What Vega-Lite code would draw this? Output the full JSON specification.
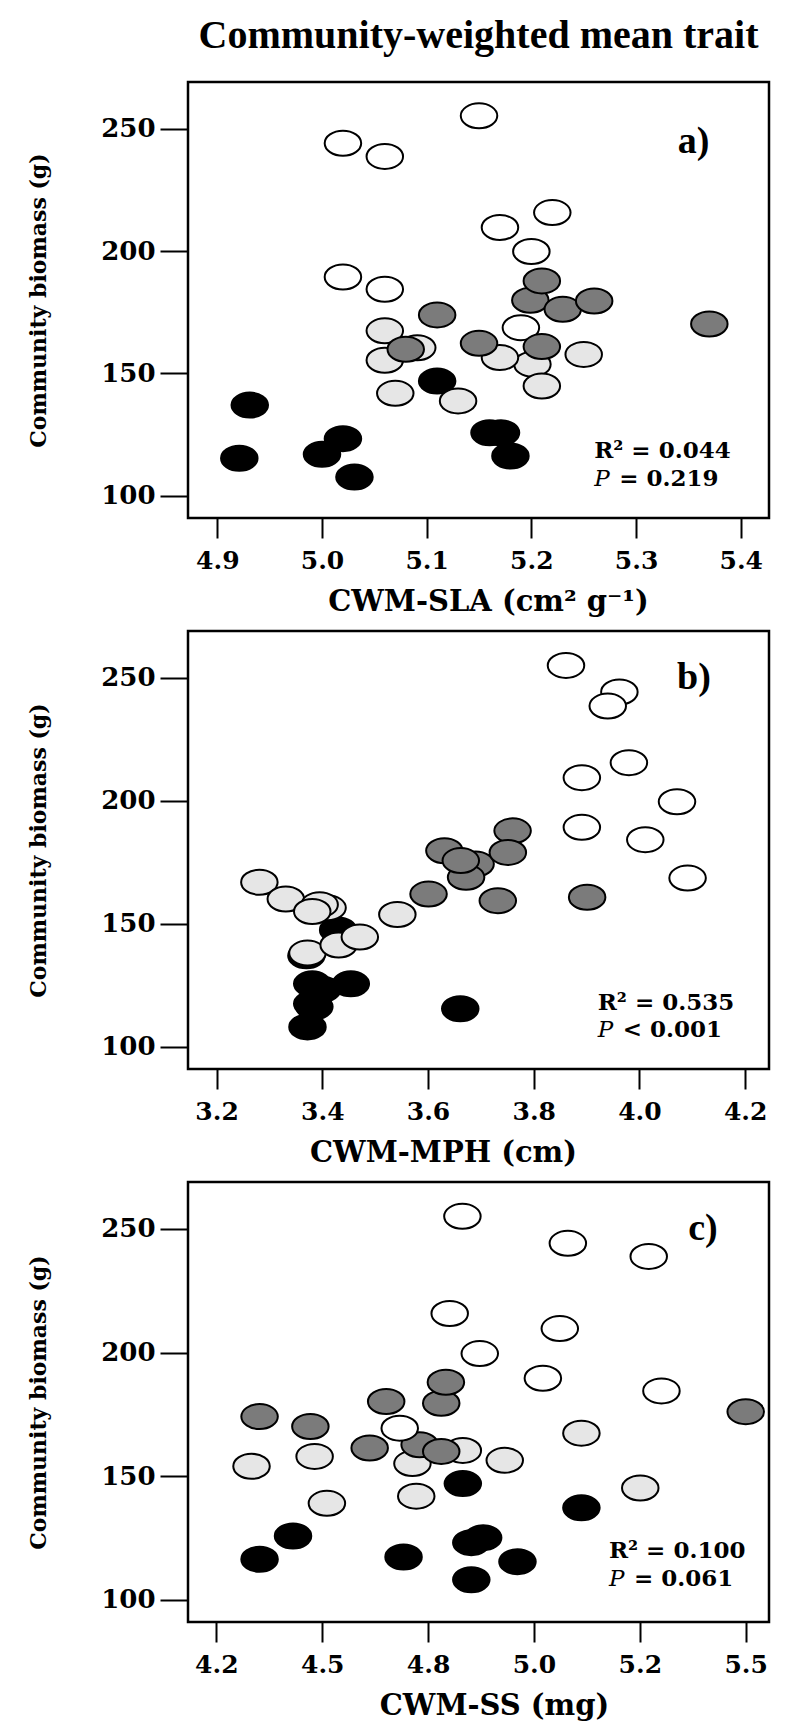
{
  "$schema": "https://vega.github.io/schema/vega-lite/v6.json",
  "background": "white",
  "padding": {"left": 26, "top": 14, "right": 18, "bottom": 6},
  "spacing": 113,
  "bounds": "flush",
  "datasets": {
    "a": [
      {"x": 4.931, "y": 137.1, "g": "black"}, {"x": 4.921, "y": 115.4, "g": "black"}, {"x": 5.000, "y": 117.0, "g": "black"},
      {"x": 5.020, "y": 123.4, "g": "black"}, {"x": 5.031, "y": 107.7, "g": "black"}, {"x": 5.110, "y": 146.9, "g": "black"},
      {"x": 5.160, "y": 125.8, "g": "black"}, {"x": 5.171, "y": 125.8, "g": "black"}, {"x": 5.180, "y": 116.3, "g": "black"},
      {"x": 5.060, "y": 167.4, "g": "light"}, {"x": 5.091, "y": 160.5, "g": "light"}, {"x": 5.060, "y": 155.4, "g": "light"},
      {"x": 5.201, "y": 153.8, "g": "light"}, {"x": 5.170, "y": 156.5, "g": "light"}, {"x": 5.250, "y": 157.8, "g": "light"},
      {"x": 5.070, "y": 141.9, "g": "light"}, {"x": 5.130, "y": 138.8, "g": "light"}, {"x": 5.210, "y": 144.9, "g": "light"},
      {"x": 5.190, "y": 168.7, "g": "white"},
      {"x": 5.110, "y": 173.9, "g": "dark"}, {"x": 5.080, "y": 159.9, "g": "dark"}, {"x": 5.150, "y": 162.3, "g": "dark"},
      {"x": 5.199, "y": 179.9, "g": "dark"}, {"x": 5.210, "y": 187.8, "g": "dark"}, {"x": 5.230, "y": 176.2, "g": "dark"},
      {"x": 5.260, "y": 179.6, "g": "dark"}, {"x": 5.210, "y": 161.0, "g": "dark"}, {"x": 5.370, "y": 170.2, "g": "dark"},
      {"x": 5.150, "y": 255.2, "g": "white"}, {"x": 5.020, "y": 244.0, "g": "white"}, {"x": 5.060, "y": 238.6, "g": "white"},
      {"x": 5.220, "y": 215.7, "g": "white"}, {"x": 5.170, "y": 209.6, "g": "white"}, {"x": 5.200, "y": 199.8, "g": "white"},
      {"x": 5.020, "y": 189.4, "g": "white"}, {"x": 5.060, "y": 184.4, "g": "white"}
    ],
    "b": [
      {"x": 3.370, "y": 137.0, "g": "black"}, {"x": 3.430, "y": 147.5, "g": "black"}, {"x": 3.381, "y": 125.6, "g": "black"},
      {"x": 3.454, "y": 125.6, "g": "black"}, {"x": 3.400, "y": 123.4, "g": "black"}, {"x": 3.381, "y": 117.5, "g": "black"},
      {"x": 3.385, "y": 116.3, "g": "black"}, {"x": 3.372, "y": 108.1, "g": "black"}, {"x": 3.661, "y": 115.5, "g": "black"},
      {"x": 3.281, "y": 166.9, "g": "light"}, {"x": 3.331, "y": 160.1, "g": "light"}, {"x": 3.410, "y": 156.5, "g": "light"},
      {"x": 3.395, "y": 157.8, "g": "light"}, {"x": 3.381, "y": 155.0, "g": "light"}, {"x": 3.542, "y": 153.8, "g": "light"},
      {"x": 3.372, "y": 138.1, "g": "light"}, {"x": 3.431, "y": 141.4, "g": "light"}, {"x": 3.471, "y": 144.6, "g": "light"},
      {"x": 3.690, "y": 174.3, "g": "dark"}, {"x": 3.672, "y": 168.9, "g": "dark"}, {"x": 3.631, "y": 179.7, "g": "dark"},
      {"x": 3.662, "y": 175.7, "g": "dark"}, {"x": 3.760, "y": 187.8, "g": "dark"}, {"x": 3.751, "y": 179.0, "g": "dark"},
      {"x": 3.601, "y": 162.1, "g": "dark"}, {"x": 3.732, "y": 159.4, "g": "dark"}, {"x": 3.901, "y": 160.8, "g": "dark"},
      {"x": 3.861, "y": 255.0, "g": "white"}, {"x": 3.962, "y": 244.2, "g": "white"}, {"x": 3.940, "y": 238.5, "g": "white"},
      {"x": 3.980, "y": 215.5, "g": "white"}, {"x": 3.891, "y": 209.4, "g": "white"}, {"x": 4.071, "y": 199.6, "g": "white"},
      {"x": 3.891, "y": 189.2, "g": "white"}, {"x": 4.011, "y": 184.2, "g": "white"}, {"x": 4.091, "y": 168.6, "g": "white"}
    ],
    "c": [
      {"x": 4.832, "y": 147.0, "g": "black"}, {"x": 5.112, "y": 137.2, "g": "black"}, {"x": 4.431, "y": 125.8, "g": "black"},
      {"x": 4.352, "y": 116.4, "g": "black"}, {"x": 4.692, "y": 117.3, "g": "black"}, {"x": 4.852, "y": 123.1, "g": "black"},
      {"x": 4.880, "y": 125.1, "g": "black"}, {"x": 4.961, "y": 115.4, "g": "black"}, {"x": 4.852, "y": 108.1, "g": "black"},
      {"x": 4.333, "y": 154.0, "g": "light"}, {"x": 4.482, "y": 158.0, "g": "light"}, {"x": 4.511, "y": 139.0, "g": "light"},
      {"x": 4.713, "y": 155.1, "g": "light"}, {"x": 4.832, "y": 160.4, "g": "light"}, {"x": 4.931, "y": 156.4, "g": "light"},
      {"x": 4.722, "y": 141.9, "g": "light"}, {"x": 5.112, "y": 167.4, "g": "light"}, {"x": 5.251, "y": 145.2, "g": "light"},
      {"x": 4.352, "y": 174.1, "g": "dark"}, {"x": 4.472, "y": 170.1, "g": "dark"}, {"x": 4.651, "y": 180.2, "g": "dark"},
      {"x": 4.781, "y": 179.5, "g": "dark"}, {"x": 4.792, "y": 188.0, "g": "dark"}, {"x": 4.612, "y": 161.4, "g": "dark"},
      {"x": 4.730, "y": 162.7, "g": "dark"}, {"x": 4.781, "y": 160.0, "g": "dark"}, {"x": 5.500, "y": 176.1, "g": "dark"},
      {"x": 4.831, "y": 255.1, "g": "white"}, {"x": 5.080, "y": 244.2, "g": "white"}, {"x": 5.271, "y": 238.9, "g": "white"},
      {"x": 4.801, "y": 215.8, "g": "white"}, {"x": 5.061, "y": 209.7, "g": "white"}, {"x": 4.872, "y": 199.6, "g": "white"},
      {"x": 5.021, "y": 189.6, "g": "white"}, {"x": 5.301, "y": 184.5, "g": "white"}, {"x": 4.683, "y": 169.4, "g": "white"}
    ]
  },
  "vconcat": [
    {
      "title": {"text": "Community-weighted mean trait", "font": "Liberation Serif", "fontSize": 40, "fontWeight": "bold", "color": "black", "anchor": "middle", "frame": "group", "baseline": "alphabetic", "offset": -6, "dx": 0},
      "width": 581, "height": 436,
      "layer": [
        {
          "data": {"name": "a"},
          "mark": {"type": "point", "shape": "M-1,0C-1,-0.378,-0.552,-0.685,0,-0.685C0.552,-0.685,1,-0.378,1,0C1,0.378,0.552,0.685,0,0.685C-0.552,0.685,-1,0.378,-1,0Z", "filled": true, "size": 1332, "stroke": "black", "strokeWidth": 2, "opacity": 1},
          "encoding": {
            "x": {"field": "x", "type": "quantitative", "scale": {"domain": [4.872, 5.427], "nice": false, "zero": false},
                  "axis": {"values": [4.9, 5.0, 5.1, 5.2, 5.3, 5.4], "format": ".1f", "title": "CWM-SLA (cm² g⁻¹)", "titleX": 300, "titleY": 92}},
            "y": {"field": "y", "type": "quantitative", "scale": {"domain": [91, 269], "nice": false, "zero": false},
                  "axis": {"values": [100, 150, 200, 250], "title": "Community biomass (g)"}},
            "fill": {"field": "g", "type": "nominal", "scale": {"domain": ["black", "dark", "light", "white"], "range": ["#000000", "#7b7b7b", "#e6e6e6", "#ffffff"]}, "legend": null}
          }
        },
        {
          "data": {"values": [{"x": 5.355, "y": 240, "t": "a)"}]},
          "mark": {"type": "text", "font": "Liberation Serif", "fontSize": 38, "fontWeight": "bold", "align": "center", "baseline": "alphabetic", "color": "black"},
          "encoding": {"x": {"field": "x", "type": "quantitative"}, "y": {"field": "y", "type": "quantitative"}, "text": {"field": "t"}}
        },
        {
          "data": {"values": [{"x": 5.260, "y": 115.6, "t": "R² = 0.044"}]},
          "mark": {"type": "text", "font": "DejaVu Serif", "fontSize": 23, "fontWeight": "bold", "align": "left", "baseline": "alphabetic", "color": "black"},
          "encoding": {"x": {"field": "x", "type": "quantitative"}, "y": {"field": "y", "type": "quantitative"}, "text": {"field": "t"}}
        },
        {
          "data": {"values": [{"x": 5.260, "y": 104.0, "t": "P"}]},
          "mark": {"type": "text", "font": "DejaVu Serif", "fontSize": 23, "fontStyle": "italic", "align": "left", "baseline": "alphabetic", "color": "black"},
          "encoding": {"x": {"field": "x", "type": "quantitative"}, "y": {"field": "y", "type": "quantitative"}, "text": {"field": "t"}}
        },
        {
          "data": {"values": [{"x": 5.260, "y": 104.0, "t": "= 0.219"}]},
          "mark": {"type": "text", "font": "DejaVu Serif", "fontSize": 23, "fontWeight": "bold", "align": "left", "baseline": "alphabetic", "dx": 25, "color": "black"},
          "encoding": {"x": {"field": "x", "type": "quantitative"}, "y": {"field": "y", "type": "quantitative"}, "text": {"field": "t"}}
        }
      ]
    },
    {
      "width": 581, "height": 438,
      "layer": [
        {
          "data": {"name": "b"},
          "mark": {"type": "point", "shape": "M-1,0C-1,-0.378,-0.552,-0.685,0,-0.685C0.552,-0.685,1,-0.378,1,0C1,0.378,0.552,0.685,0,0.685C-0.552,0.685,-1,0.378,-1,0Z", "filled": true, "size": 1332, "stroke": "black", "strokeWidth": 2, "opacity": 1},
          "encoding": {
            "x": {"field": "x", "type": "quantitative", "scale": {"domain": [3.146, 4.245], "nice": false, "zero": false},
                  "axis": {"values": [3.2, 3.4, 3.6, 3.8, 4.0, 4.2], "format": ".1f", "title": "CWM-MPH (cm)", "titleX": 255, "titleY": 92}},
            "y": {"field": "y", "type": "quantitative", "scale": {"domain": [91, 269], "nice": false, "zero": false},
                  "axis": {"values": [100, 150, 200, 250], "title": "Community biomass (g)"}},
            "fill": {"field": "g", "type": "nominal", "scale": {"domain": ["black", "dark", "light", "white"], "range": ["#000000", "#7b7b7b", "#e6e6e6", "#ffffff"]}, "legend": null}
          }
        },
        {
          "data": {"values": [{"x": 4.103, "y": 245.3, "t": "b)"}]},
          "mark": {"type": "text", "font": "Liberation Serif", "fontSize": 38, "fontWeight": "bold", "align": "center", "baseline": "alphabetic", "color": "black"},
          "encoding": {"x": {"field": "x", "type": "quantitative"}, "y": {"field": "y", "type": "quantitative"}, "text": {"field": "t"}}
        },
        {
          "data": {"values": [{"x": 3.921, "y": 114.8, "t": "R² = 0.535"}]},
          "mark": {"type": "text", "font": "DejaVu Serif", "fontSize": 23, "fontWeight": "bold", "align": "left", "baseline": "alphabetic", "color": "black"},
          "encoding": {"x": {"field": "x", "type": "quantitative"}, "y": {"field": "y", "type": "quantitative"}, "text": {"field": "t"}}
        },
        {
          "data": {"values": [{"x": 3.921, "y": 104.0, "t": "P"}]},
          "mark": {"type": "text", "font": "DejaVu Serif", "fontSize": 23, "fontStyle": "italic", "align": "left", "baseline": "alphabetic", "color": "black"},
          "encoding": {"x": {"field": "x", "type": "quantitative"}, "y": {"field": "y", "type": "quantitative"}, "text": {"field": "t"}}
        },
        {
          "data": {"values": [{"x": 3.921, "y": 104.0, "t": "< 0.001"}]},
          "mark": {"type": "text", "font": "DejaVu Serif", "fontSize": 23, "fontWeight": "bold", "align": "left", "baseline": "alphabetic", "dx": 25, "color": "black"},
          "encoding": {"x": {"field": "x", "type": "quantitative"}, "y": {"field": "y", "type": "quantitative"}, "text": {"field": "t"}}
        }
      ]
    },
    {
      "width": 581, "height": 440,
      "layer": [
        {
          "data": {"name": "c"},
          "mark": {"type": "point", "shape": "M-1,0C-1,-0.378,-0.552,-0.685,0,-0.685C0.552,-0.685,1,-0.378,1,0C1,0.378,0.552,0.685,0,0.685C-0.552,0.685,-1,0.378,-1,0Z", "filled": true, "size": 1332, "stroke": "black", "strokeWidth": 2, "opacity": 1},
          "encoding": {
            "x": {"field": "x", "type": "quantitative", "scale": {"domain": [4.183, 5.555], "nice": false, "zero": false},
                  "axis": {"values": [4.25, 4.5, 4.75, 5.0, 5.25, 5.5], "labelExpr": "datum.value == 4.25 ? '4.2' : datum.value == 4.75 ? '4.8' : datum.value == 5.25 ? '5.2' : format(datum.value, '.1f')", "title": "CWM-SS (mg)", "titleX": 306, "titleY": 92}},
            "y": {"field": "y", "type": "quantitative", "scale": {"domain": [91, 269], "nice": false, "zero": false},
                  "axis": {"values": [100, 150, 200, 250], "title": "Community biomass (g)"}},
            "fill": {"field": "g", "type": "nominal", "scale": {"domain": ["black", "dark", "light", "white"], "range": ["#000000", "#7b7b7b", "#e6e6e6", "#ffffff"]}, "legend": null}
          }
        },
        {
          "data": {"values": [{"x": 5.399, "y": 245.4, "t": "c)"}]},
          "mark": {"type": "text", "font": "Liberation Serif", "fontSize": 38, "fontWeight": "bold", "align": "center", "baseline": "alphabetic", "color": "black"},
          "encoding": {"x": {"field": "x", "type": "quantitative"}, "y": {"field": "y", "type": "quantitative"}, "text": {"field": "t"}}
        },
        {
          "data": {"values": [{"x": 5.177, "y": 117.0, "t": "R² = 0.100"}]},
          "mark": {"type": "text", "font": "DejaVu Serif", "fontSize": 23, "fontWeight": "bold", "align": "left", "baseline": "alphabetic", "color": "black"},
          "encoding": {"x": {"field": "x", "type": "quantitative"}, "y": {"field": "y", "type": "quantitative"}, "text": {"field": "t"}}
        },
        {
          "data": {"values": [{"x": 5.177, "y": 105.6, "t": "P"}]},
          "mark": {"type": "text", "font": "DejaVu Serif", "fontSize": 23, "fontStyle": "italic", "align": "left", "baseline": "alphabetic", "color": "black"},
          "encoding": {"x": {"field": "x", "type": "quantitative"}, "y": {"field": "y", "type": "quantitative"}, "text": {"field": "t"}}
        },
        {
          "data": {"values": [{"x": 5.177, "y": 105.6, "t": "= 0.061"}]},
          "mark": {"type": "text", "font": "DejaVu Serif", "fontSize": 23, "fontWeight": "bold", "align": "left", "baseline": "alphabetic", "dx": 25, "color": "black"},
          "encoding": {"x": {"field": "x", "type": "quantitative"}, "y": {"field": "y", "type": "quantitative"}, "text": {"field": "t"}}
        }
      ]
    }
  ],
  "config": {
    "view": {"stroke": "black", "strokeWidth": 2.5},
    "axis": {
      "domain": false, "grid": false,
      "tickColor": "black", "tickWidth": 2,
      "labelFont": "DejaVu Serif", "labelFontWeight": "bold", "labelColor": "black",
      "titleFont": "DejaVu Serif", "titleFontWeight": "bold", "titleColor": "black"
    },
    "axisX": {"tickSize": 20, "labelPadding": 10, "labelFontSize": 25, "titleFontSize": 29, "titleAlign": "center", "titleBaseline": "alphabetic", "titleAnchor": "middle"},
    "axisY": {"tickSize": 28, "labelPadding": 5, "labelFontSize": 26, "titleFontSize": 22, "titlePadding": 50}
  }
}
